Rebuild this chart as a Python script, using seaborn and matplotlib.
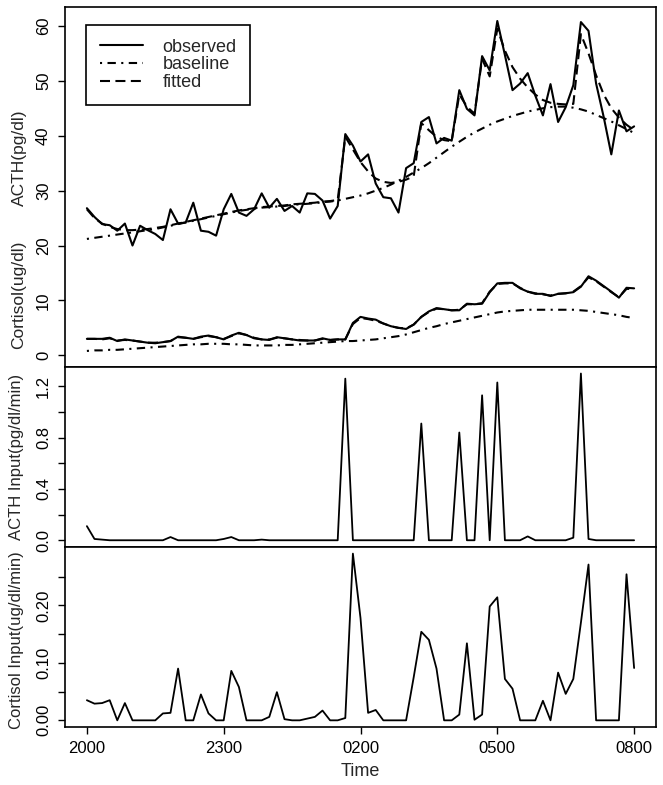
import numpy as np
import pandas as pd
import matplotlib
matplotlib.use("Agg")
import matplotlib.pyplot as plt
import seaborn as sns

# sampling grid: every 10 minutes from 20:00 to 08:00 (hours since 20:00)
time_h = np.arange(73) / 6.0
xtick_pos = [0, 3, 6, 9, 12]
xtick_labels = ["2000", "2300", "0200", "0500", "0800"]

acth_obs = [26.8, 25.2, 23.9, 23.7, 22.7, 24.0, 20.0, 23.6, 22.8, 22.1,
            21.0, 26.6, 24.0, 24.2, 27.8, 22.7, 22.5, 21.8, 26.6, 29.4,
            26.0, 25.4, 26.6, 29.5, 26.9, 28.5, 26.3, 27.2, 26.0, 29.5,
            29.4, 28.2, 24.9, 27.2, 40.3, 38.2, 35.3, 36.6, 31.3, 28.8,
            28.6, 26.0, 34.1, 35.0, 42.5, 43.4, 38.6, 39.6, 39.1, 48.3,
            44.9, 43.7, 54.5, 51.9, 60.9, 54.7, 48.3, 49.5, 51.4, 47.3,
            43.7, 49.4, 42.5, 45.2, 49.2, 60.7, 59.1, 49.5, 43.4, 36.6,
            44.6, 40.8, 41.7]
acth_base = [21.2, 21.4, 21.6, 21.8, 22.0, 22.2, 22.4, 22.6, 22.8, 23.0,
             23.3, 23.6, 23.9, 24.2, 24.5, 24.8, 25.1, 25.4, 25.7, 26.0,
             26.3, 26.5, 26.7, 26.9, 27.0, 27.1, 27.2, 27.4, 27.5, 27.6,
             27.7, 27.9, 28.0, 28.2, 28.5, 28.8, 29.1, 29.5, 30.0, 30.5,
             31.1, 31.8, 32.5, 33.3, 34.1, 35.0, 36.0, 37.0, 38.0, 38.9,
             39.8, 40.6, 41.3, 42.0, 42.6, 43.1, 43.6, 44.0, 44.4, 44.7,
             45.0, 45.2, 45.3, 45.3, 45.1, 44.8, 44.4, 43.8, 43.2, 42.6,
             41.9, 41.2, 40.5]
acth_fit = [26.6, 25.0, 24.0, 23.4, 23.0, 22.8, 22.8, 22.9, 23.0, 23.2,
            23.4, 23.7, 24.0, 24.3, 24.6, 24.9, 25.2, 25.5, 25.8, 26.1,
            26.4, 26.6, 26.8, 27.0, 27.1, 27.2, 27.3, 27.5, 27.6, 27.7,
            27.8, 28.0, 28.1, 28.3, 39.8, 37.5, 35.2, 33.5, 32.2, 31.6,
            31.4, 31.6, 32.0, 32.6, 42.3, 41.0, 39.8, 39.2, 39.0, 47.5,
            45.3, 44.0, 54.0, 50.8, 59.5, 55.5, 52.5, 50.4, 48.8, 47.5,
            46.5, 46.0, 45.8, 45.7, 45.8, 58.5, 55.0, 51.0, 47.5, 45.0,
            43.3, 42.0, 41.0]
cort_obs = [3.0, 3.0, 3.0, 3.2, 2.6, 2.9, 2.7, 2.5, 2.3, 2.2,
            2.4, 2.6, 3.4, 3.2, 3.0, 3.4, 3.6, 3.3, 2.9, 3.6,
            4.1, 3.7, 3.1, 2.9, 2.8, 3.3, 3.1, 2.9, 2.7, 2.7,
            2.7, 3.1, 2.8, 2.9, 2.9, 5.9, 7.0, 6.7, 6.5, 5.8,
            5.3, 5.0, 4.8, 5.6, 7.0, 8.0, 8.6, 8.4, 8.2, 8.2,
            9.4, 9.3, 9.4, 11.5, 13.1, 13.2, 13.2, 12.2, 11.6, 11.2,
            11.2, 10.8, 11.2, 11.3, 11.5, 12.5, 14.4, 13.6, 12.6, 11.6,
            10.5, 12.3, 12.2]
cort_fit = [3.0, 3.0, 2.9, 3.1, 2.7, 2.8, 2.7, 2.5, 2.3, 2.3,
            2.4, 2.6, 3.3, 3.2, 3.0, 3.3, 3.5, 3.3, 3.0, 3.5,
            4.0, 3.7, 3.2, 2.9, 2.9, 3.2, 3.1, 2.9, 2.8, 2.7,
            2.7, 3.0, 2.8, 2.9, 2.9, 5.7, 6.8, 6.6, 6.3, 5.8,
            5.3, 5.0, 4.9, 5.6, 7.0, 7.9, 8.5, 8.4, 8.2, 8.3,
            9.3, 9.3, 9.5, 11.6, 13.0, 13.1, 13.1, 12.3, 11.6, 11.3,
            11.1, 10.9, 11.2, 11.3, 11.6, 12.6, 14.2, 13.5, 12.5, 11.5,
            10.6, 12.1, 12.1]
cort_base = [0.8, 0.9, 0.9, 1.0, 1.0, 1.1, 1.2, 1.3, 1.4, 1.5,
             1.6, 1.7, 1.8, 1.9, 2.0, 2.0, 2.1, 2.1, 2.1, 2.0,
             2.0, 1.9, 1.8, 1.8, 1.8, 1.8, 1.9, 1.9, 2.0, 2.1,
             2.2, 2.3, 2.4, 2.5, 2.6, 2.6, 2.7, 2.8, 2.9, 3.1,
             3.3, 3.5, 3.8, 4.2, 4.6, 5.0, 5.3, 5.7, 6.0, 6.3,
             6.6, 6.9, 7.2, 7.5, 7.8, 8.0, 8.1, 8.2, 8.3, 8.3,
             8.3, 8.3, 8.3, 8.3, 8.3, 8.2, 8.1, 7.9, 7.7, 7.5,
             7.3, 7.0, 6.8]
acth_input = [0.11, 0.01, 0.005, 0.0, 0.0, 0.0, 0.0, 0.0, 0.0, 0.0,
              0.0, 0.025, 0.0, 0.0, 0.0, 0.0, 0.0, 0.0, 0.01, 0.025,
              0.0, 0.0, 0.0, 0.005, 0.0, 0.0, 0.0, 0.0, 0.0, 0.0,
              0.0, 0.0, 0.0, 0.0, 1.26, 0.0, 0.0, 0.0, 0.0, 0.0,
              0.0, 0.0, 0.0, 0.0, 0.91, 0.0, 0.0, 0.0, 0.0, 0.84,
              0.0, 0.0, 1.13, 0.0, 1.23, 0.0, 0.0, 0.0, 0.03, 0.0,
              0.0, 0.0, 0.0, 0.0, 0.02, 1.30, 0.01, 0.0, 0.0, 0.0,
              0.0, 0.0, 0.0]
cort_input = [0.035, 0.029, 0.030, 0.035, 0.0, 0.030, 0.0, 0.0, 0.0, 0.0,
              0.012, 0.013, 0.090, 0.0, 0.0, 0.045, 0.012, 0.0, 0.0, 0.086,
              0.058, 0.0, 0.0, 0.0, 0.006, 0.049, 0.002, 0.0, 0.0, 0.003,
              0.006, 0.017, 0.0, 0.0, 0.004, 0.290, 0.178, 0.013, 0.018, 0.0,
              0.0, 0.0, 0.0, 0.075, 0.154, 0.140, 0.090, 0.0, 0.0, 0.010,
              0.134, 0.001, 0.010, 0.198, 0.214, 0.072, 0.055, 0.0, 0.0, 0.0,
              0.034, 0.0, 0.083, 0.046, 0.072, 0.170, 0.271, 0.0, 0.0, 0.0,
              0.0, 0.254, 0.091]

acth_ticks = [0, 0.2, 0.4, 0.6, 0.8, 1.0, 1.2]
acth_ticklabels = ["0.0", "", "0.4", "", "0.8", "", "1.2"]
cort_ticks = [0, 0.05, 0.10, 0.15, 0.20, 0.25]
cort_ticklabels = ["0.00", "", "0.10", "", "0.20", ""]

df = pd.DataFrame({"t": time_h, "acth_obs": acth_obs, "acth_base": acth_base,
                   "acth_fit": acth_fit, "cort_obs": cort_obs, "cort_base": cort_base,
                   "cort_fit": cort_fit, "acth_in": acth_input, "cort_in": cort_input})

sns.set_theme(style="ticks")
plt.rcParams['font.family'] = ['Liberation Sans', 'DejaVu Sans']
plt.rcParams['font.size'] = 12

W, H = 663, 785
fig = plt.figure(figsize=(W / 100, H / 100), dpi=100)
gs = fig.add_gridspec(3, 1, height_ratios=[2, 1, 1], hspace=0,
                      left=65 / W, right=656 / W, top=1 - 6.7 / H, bottom=1 - 727 / H)
ax1 = fig.add_subplot(gs[0])
ax2 = fig.add_subplot(gs[1], sharex=ax1)
ax3 = fig.add_subplot(gs[2], sharex=ax1)

LW = 1.5
DASH = (4.8, 2.6)
DOTDASH = (1.0, 2.6, 4.0, 2.6)


def draw(ax, col, dashes=None, lw=LW):
    sns.lineplot(data=df, x="t", y=col, ax=ax, color="black", lw=lw,
                 estimator=None, sort=False, legend=False)
    ln = ax.lines[-1]
    if dashes is not None:
        ln.set_dashes(dashes)
    return ln


l_obs = draw(ax1, "acth_obs")
l_base = draw(ax1, "acth_base", DOTDASH)
l_fit = draw(ax1, "acth_fit", DASH)
draw(ax1, "cort_obs")
draw(ax1, "cort_base", DOTDASH)
draw(ax1, "cort_fit", DASH)
draw(ax2, "acth_in", lw=1.3)
draw(ax3, "cort_in", lw=1.3)

for ax in (ax1, ax2, ax3):
    ax.set_xlim(-0.48, 12.48)
    for s in ax.spines.values():
        s.set_visible(True)
        s.set_color("black")
        s.set_linewidth(1.2)
    ax.tick_params(axis="both", direction="out", length=5, width=1.0,
                   colors="black", labelsize=12, pad=5)
    ax.tick_params(axis="y", labelrotation=90)
    ax.set_xlabel("")
    ax.set_ylabel("")

ax1.set_ylim(-2.1, 63.5)
ax1.set_yticks([0, 10, 20, 30, 40, 50, 60])
ax1.set_yticklabels(["0", "10", "20", "30", "40", "50", "60"])
ax2.set_ylim(-0.052, 1.352)
ax2.set_yticks(acth_ticks)
ax2.set_yticklabels(acth_ticklabels)
ax3.set_ylim(-0.0116, 0.3016)
ax3.set_yticks(cort_ticks)
ax3.set_yticklabels(cort_ticklabels)
for ax in (ax1, ax2, ax3):
    for lab in ax.get_yticklabels():
        lab.set_va("center")

for ax in (ax1, ax2):
    ax.tick_params(axis="x", bottom=False, labelbottom=False)
ax3.set_xticks(xtick_pos)
ax3.set_xticklabels(xtick_labels)
ax3.set_xlabel("Time", fontsize=13, labelpad=5)

fig.text(19 / W, 1 - 158 / H, "ACTH(pg/dl)", rotation=90, ha="center", va="center", fontsize=12.5)
fig.text(19 / W, 1 - 295 / H, "Cortisol(ug/dl)", rotation=90, ha="center", va="center", fontsize=12.5)
fig.text(17 / W, 1 - 457 / H, "ACTH Input(pg/dl/min)", rotation=90, ha="center", va="center", fontsize=12)
fig.text(17 / W, 1 - 640 / H, "Cortisol Input(ug/dl/min)", rotation=90, ha="center", va="center", fontsize=12)

leg = ax1.legend(handles=[l_obs, l_base, l_fit], labels=["observed", "baseline", "fitted"],
                 loc="upper left", bbox_to_anchor=((86 - 65) / 591, 1 - (25 - 6.7) / 359.3),
                 borderaxespad=0, frameon=True, fancybox=False, edgecolor="black",
                 framealpha=1, handlelength=2.4, handletextpad=1.1, borderpad=0.75,
                 labelspacing=0.05, fontsize=13)
leg.get_frame().set_linewidth(1.2)

fig.savefig("out.png", dpi=100, facecolor="white")
